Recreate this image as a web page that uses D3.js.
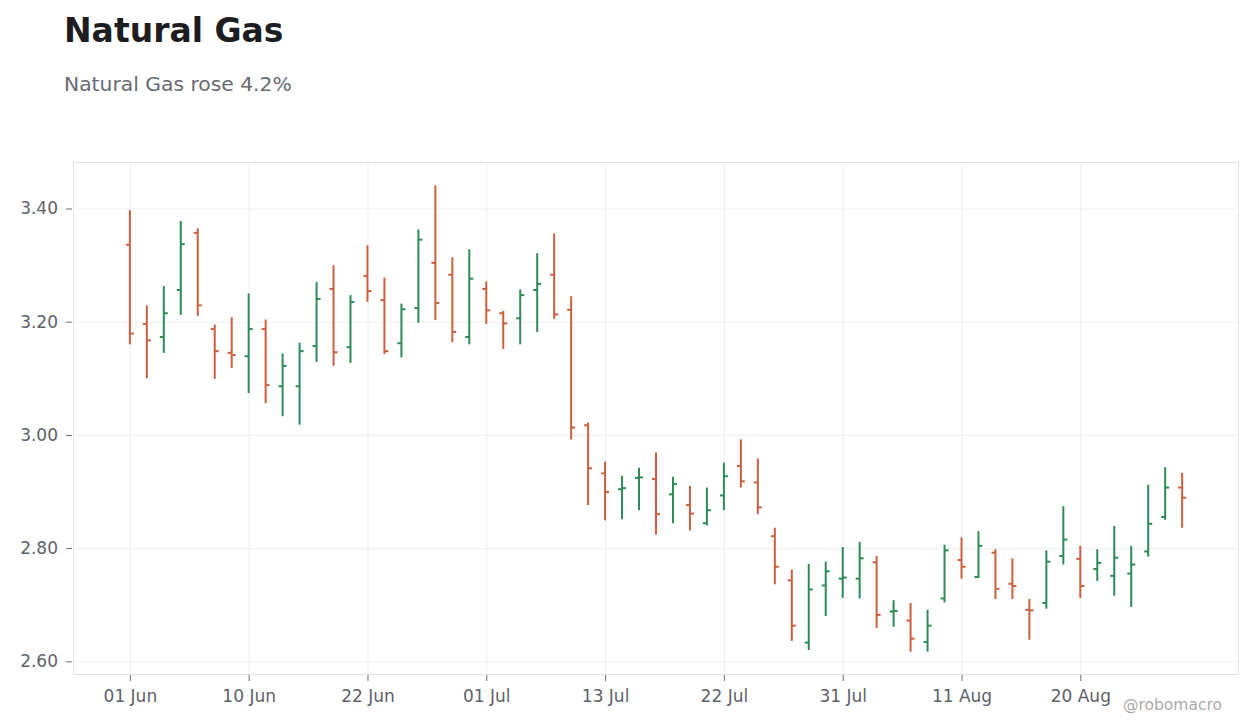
<!DOCTYPE html>
<html>
<head>
<meta charset="utf-8">
<script src="https://cdn.jsdelivr.net/npm/d3@7"></script>
<style>
  body { margin: 0; background: #fff; }
  svg text { font-family: "DejaVu Sans", sans-serif; }
</style>
</head>
<body>
<div id="chart"></div>
<script>
// trading days shown on the chart
var dates = [
  "2022-06-01","2022-06-02","2022-06-03","2022-06-06","2022-06-07","2022-06-08","2022-06-09","2022-06-10",
  "2022-06-13","2022-06-14","2022-06-15","2022-06-16","2022-06-17","2022-06-21","2022-06-22",
  "2022-06-23","2022-06-24","2022-06-27","2022-06-28","2022-06-29","2022-06-30","2022-07-01",
  "2022-07-05","2022-07-06","2022-07-07","2022-07-08","2022-07-11","2022-07-12","2022-07-13",
  "2022-07-14","2022-07-15","2022-07-18","2022-07-19","2022-07-20","2022-07-21","2022-07-22",
  "2022-07-25","2022-07-26","2022-07-27","2022-07-28","2022-07-29","2022-07-30","2022-07-31",
  "2022-08-02","2022-08-03","2022-08-04","2022-08-08","2022-08-09","2022-08-10","2022-08-11",
  "2022-08-12","2022-08-15","2022-08-16","2022-08-17","2022-08-18","2022-08-19","2022-08-20",
  "2022-08-22","2022-08-23","2022-08-24","2022-08-25","2022-08-26","2022-08-29"
];

var open = [3.336,3.196,3.173,3.256,3.357,3.187,3.145,3.139,3.187,3.086,3.086,
  3.157,3.258,3.155,3.281,3.238,3.162,3.224,3.304,3.283,3.173,
  3.258,3.215,3.206,3.256,3.283,3.221,3.017,
  2.932,2.904,2.924,2.922,2.895,2.876,2.844,2.893,2.945,2.916,
  2.821,2.743,2.633,2.734,2.746,2.746,2.775,2.688,2.672,2.634,2.711,
  2.779,2.749,2.792,2.737,2.691,2.703,2.786,2.781,2.763,2.751,2.755,2.794,2.855,2.907];

var high = [3.397,3.229,3.263,3.378,3.365,3.195,3.208,3.250,3.204,3.144,3.163,
  3.270,3.300,3.247,3.335,3.278,3.232,3.363,3.441,3.314,3.328,
  3.271,3.219,3.257,3.321,3.356,3.245,3.022,
  2.953,2.928,2.942,2.969,2.926,2.910,2.907,2.951,2.992,2.958,
  2.836,2.762,2.772,2.776,2.802,2.811,2.786,2.708,2.703,2.691,2.806,
  2.819,2.830,2.798,2.782,2.710,2.796,2.874,2.804,2.798,2.839,2.804,2.912,2.943,2.933];

var low = [3.160,3.100,3.145,3.212,3.210,3.099,3.118,3.074,3.056,3.033,3.018,
  3.129,3.122,3.127,3.235,3.143,3.137,3.198,3.203,3.164,3.160,
  3.196,3.152,3.160,3.182,3.205,2.992,2.876,
  2.849,2.851,2.867,2.824,2.844,2.831,2.840,2.867,2.907,2.860,
  2.736,2.636,2.620,2.680,2.712,2.711,2.659,2.661,2.617,2.617,2.704,
  2.746,2.747,2.710,2.710,2.638,2.693,2.771,2.712,2.742,2.716,2.696,2.785,2.850,2.836];

var close = [3.179,3.167,3.215,3.337,3.229,3.148,3.141,3.187,3.088,3.122,3.148,
  3.240,3.146,3.235,3.254,3.148,3.222,3.345,3.233,3.182,3.276,
  3.220,3.197,3.247,3.267,3.213,3.013,2.941,
  2.899,2.906,2.925,2.860,2.913,2.861,2.867,2.927,2.918,2.872,
  2.767,2.663,2.727,2.759,2.748,2.782,2.682,2.689,2.640,2.663,2.796,
  2.767,2.804,2.728,2.733,2.690,2.776,2.815,2.733,2.774,2.783,2.771,2.843,2.907,2.889];

var title = "Natural Gas",
    subtitle = "Natural Gas rose 4.2%",
    credit = "@robomacro";

(function (){
    var width = 1260,
        height = 728;
    var margin = {top: 162, right: 21, bottom: 53, left: 73};
    var plotW = width - margin.left - margin.right,
        plotH = height - margin.top - margin.bottom;

    var up = "#2e8b57",
        down = "#cc5f3e",
        textCol = "#5f616a";

    var parse = d3.timeParse("%Y-%m-%d"),
        fmt = d3.timeFormat("%d %b");

    var data = dates.map(function(d, i){
        return {i: i, date: parse(d), o: open[i], h: high[i], l: low[i], c: close[i]};
    });

    var svg = d3.select("#chart")
        .append("svg")
        .attr("width", width)
        .attr("height", height);

    svg.append("text")
        .attr("x", 64).attr("y", 42)
        .attr("font-size", 33).attr("font-weight", "bold")
        .attr("fill", "#1c1c21")
        .text(title);

    svg.append("text")
        .attr("x", 64).attr("y", 91)
        .attr("font-size", 20.3).attr("fill", "#686a73")
        .text(subtitle);

    var g = svg.append("g")
        .attr("transform", "translate(" + margin.left + "," + margin.top + ")");

    var pad = 3.35;
    var x = d3.scaleLinear()
        .domain([-pad, data.length - 1 + pad])
        .range([0, plotW]);

    var lo = d3.min(low), hi = d3.max(high), span = hi - lo;
    var y = d3.scaleLinear()
        .domain([lo - span * 0.05, hi + span * 0.05])
        .range([plotH, 0]);

    var xTicks = d3.range(0, data.length, 7);
    var yTicks = [2.6, 2.8, 3.0, 3.2, 3.4];

    // grid
    g.append("g").selectAll("line")
        .data(yTicks).enter().append("line")
        .attr("x1", 0).attr("x2", plotW)
        .attr("y1", function(d){ return y(d) + 0.5; })
        .attr("y2", function(d){ return y(d) + 0.5; })
        .attr("stroke", "#eeeeee");

    g.append("g").selectAll("line")
        .data(xTicks).enter().append("line")
        .attr("y1", 0).attr("y2", plotH)
        .attr("x1", function(d){ return x(d) + 0.5; })
        .attr("x2", function(d){ return x(d) + 0.5; })
        .attr("stroke", "#eeeeee");

    g.append("rect")
        .attr("x", 0.5).attr("y", 0.5)
        .attr("width", plotW - 1).attr("height", plotH - 1)
        .attr("fill", "none")
        .attr("stroke", "#e2e2e2");

    // axes
    var xAxis = g.append("g")
        .attr("transform", "translate(0," + plotH + ")")
        .call(d3.axisBottom(x)
            .tickValues(xTicks)
            .tickSize(6)
            .tickPadding(9)
            .tickFormat(function(d){ return fmt(data[d].date); }));

    var yAxis = g.append("g")
        .attr("transform", "translate(-1,0)")
        .call(d3.axisLeft(y)
            .tickValues(yTicks)
            .tickSize(6)
            .tickPadding(8)
            .tickFormat(d3.format(".2f")));

    [xAxis, yAxis].forEach(function(a){
        a.select(".domain").remove();
        a.selectAll(".tick line").attr("stroke", "#6a6c74");
        a.selectAll(".tick text")
            .attr("fill", textCol)
            .attr("font-size", 17)
            .attr("font-family", "DejaVu Sans, sans-serif");
    });

    // OHLC bars
    var bars = g.append("g").selectAll("g")
        .data(data).enter().append("g")
        .attr("stroke", function(d){ return d.c >= d.o ? up : down; })
        .attr("stroke-width", 2);

    bars.append("line")
        .attr("x1", function(d){ return x(d.i); })
        .attr("x2", function(d){ return x(d.i); })
        .attr("y1", function(d){ return y(d.h); })
        .attr("y2", function(d){ return y(d.l); });

    bars.append("line")
        .attr("x1", function(d){ return x(d.i) - 4; })
        .attr("x2", function(d){ return x(d.i); })
        .attr("y1", function(d){ return y(d.o); })
        .attr("y2", function(d){ return y(d.o); });

    bars.append("line")
        .attr("x1", function(d){ return x(d.i); })
        .attr("x2", function(d){ return x(d.i) + 4; })
        .attr("y1", function(d){ return y(d.c); })
        .attr("y2", function(d){ return y(d.c); });

    svg.append("text")
        .attr("x", 1222).attr("y", 710)
        .attr("text-anchor", "end")
        .attr("font-size", 15.5)
        .attr("fill", "#ababab")
        .text(credit);
})();
</script>
</body>
</html>
